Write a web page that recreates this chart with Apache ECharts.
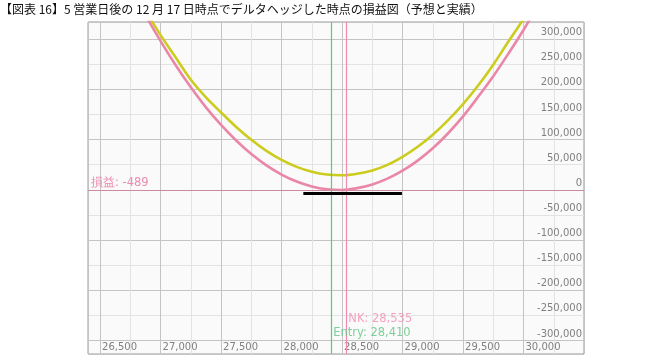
<!DOCTYPE html>
<html>
<head>
<meta charset="utf-8">
<script src="https://cdn.jsdelivr.net/npm/echarts@6/dist/echarts.min.js"></script>
<style>
html,body{margin:0;padding:0;background:#fff;}
#c{width:667px;height:362px;}
</style>
</head>
<body>
<div id="c"></div>
<script>
const titleText = '【図表 16】5 営業日後の 12 月 17 日時点でデルタヘッジした時点の損益図（予想と実績）';
const xs = [26750, 26875, 27000, 27125, 27250, 27375, 27500, 27625, 27750, 27875, 28000, 28125, 28250, 28375,
            28500, 28625, 28750, 28875, 29000, 29125, 29250, 29375, 29500, 29625, 29750, 29875, 30000, 30125];
const yosou = [408900, 356400, 307900, 263400, 219000, 184000, 153900, 124900, 99400, 77400, 59400, 45500, 35800, 30300,
               29000, 32000, 38500, 49500, 65500, 85500, 109500, 138000, 170500, 207500, 249000, 295000, 340000, 390000];
const jisseki = [405000, 348000, 296000, 248000, 204000, 164000, 129000, 98000, 71000, 48500, 30300, 16300, 6600, 1000,
                 -500, 3200, 10600, 22100, 37900, 58000, 82500, 112000, 146000, 185000, 226000, 271000, 318000, 370000];
const pnlNow = -489;
const entryPrice = 28410;
const nkPrice = 28535;
const entryLabelY = -285000;
const nkLabelY = -258000;
const blackBar = [[28180, -7400], [28995, -7400]];
const xMin = 26400, xMax = 30500;
const yMin = -327000, yMax = 334000;

const fmt = v => v.toLocaleString('en-US');

const chart = echarts.init(document.getElementById('c'), null, {renderer: 'canvas'});
const labelFont = 'DejaVu Sans';
const majorColor = '#c4c4c4';
const minorColor = '#e3e3e3';

chart.setOption({
  animation: false,
  backgroundColor: '#ffffff',
  title: {
    text: titleText,
    left: 0, top: 3, padding: 0,
    textStyle: {fontSize: 12, fontWeight: 'normal', color: '#111', fontFamily: 'Noto Sans CJK JP'}
  },
  grid: {
    left: 88, right: 83, top: 22, bottom: 8,
    show: true, backgroundColor: '#fafafa', borderColor: '#9a9a9a', borderWidth: 1,
    outerBoundsMode: 'none'
  },
  xAxis: [{
    type: 'value', min: xMin, max: xMax, splitNumber: 8, position: 'bottom',
    axisLine: {show: false}, axisTick: {show: false},
    axisLabel: {
      inside: true, align: 'left', verticalAlign: 'middle', margin: 7, padding: [0, 0, 0, 2],
      showMinLabel: false, showMaxLabel: false,
      color: '#808080', fontSize: 10, fontFamily: labelFont,
      formatter: v => fmt(v)
    },
    splitLine: {show: true, lineStyle: {color: majorColor, width: 1}},
    minorTick: {show: false, splitNumber: 2},
    minorSplitLine: {show: true, lineStyle: {color: minorColor, width: 1}}
  }],
  yAxis: [{
    type: 'value', min: yMin, max: yMax, splitNumber: 5, position: 'left',
    axisLine: {show: false}, axisTick: {show: false}, axisLabel: {show: false},
    splitLine: {show: true, lineStyle: {color: majorColor, width: 1}},
    minorTick: {show: false, splitNumber: 2},
    minorSplitLine: {show: true, lineStyle: {color: minorColor, width: 1}}
  }, {
    type: 'value', min: yMin, max: yMax, splitNumber: 12, position: 'right',
    axisLine: {show: false}, axisTick: {show: false}, splitLine: {show: false},
    axisLabel: {
      inside: true, margin: 2, verticalAlign: 'bottom', lineHeight: 13,
      showMinLabel: false, showMaxLabel: false,
      color: '#808080', fontSize: 10, fontFamily: labelFont,
      formatter: v => fmt(v)
    }
  }],
  series: [
    {
      name: '予想', type: 'line', xAxisIndex: 0, yAxisIndex: 0,
      data: xs.map((x, i) => [x, yosou[i]]),
      symbol: 'none', smooth: 0.3, z: 3,
      lineStyle: {color: '#cccc1e', width: 2.6}
    },
    {
      name: '実績', type: 'line', xAxisIndex: 0, yAxisIndex: 0,
      data: xs.map((x, i) => [x, jisseki[i]]),
      symbol: 'none', smooth: 0.3, z: 3,
      lineStyle: {color: '#ea87a6', width: 2.6},
      markLine: {
        silent: true, symbol: 'none', animation: false,
        data: [
          {yAxis: pnlNow, lineStyle: {color: '#cc8aa0', width: 1, type: 'solid'},
           label: {show: true, position: 'insideStartTop', formatter: '損益: ' + pnlNow,
                   color: '#ee8ab0', fontSize: 11.5, fontFamily: labelFont, distance: [3, 1]}},
          {xAxis: nkPrice, lineStyle: {color: '#f08ab2', width: 1.2, type: 'solid'}, label: {show: false}},
          {xAxis: entryPrice, lineStyle: {color: '#55cc7e', width: 1.2, type: 'solid'}, label: {show: false}}
        ]
      }
    },
    {
      name: 'bar', type: 'line', xAxisIndex: 0, yAxisIndex: 0,
      data: blackBar, symbol: 'none', z: 5,
      lineStyle: {color: '#000', width: 3}
    },
    {
      name: 'labels', type: 'scatter', xAxisIndex: 0, yAxisIndex: 0,
      symbolSize: 0, z: 6, silent: true,
      data: [
        {value: [entryPrice, entryLabelY], label: {formatter: 'Entry: ' + fmt(entryPrice), color: '#5cc680'}},
        {value: [nkPrice, nkLabelY], label: {formatter: 'NK: ' + fmt(nkPrice), color: '#ef8db0'}}
      ],
      label: {show: true, position: 'right', distance: 2, fontSize: 11.5, fontFamily: labelFont}
    }
  ]
});
</script>
</body>
</html>
